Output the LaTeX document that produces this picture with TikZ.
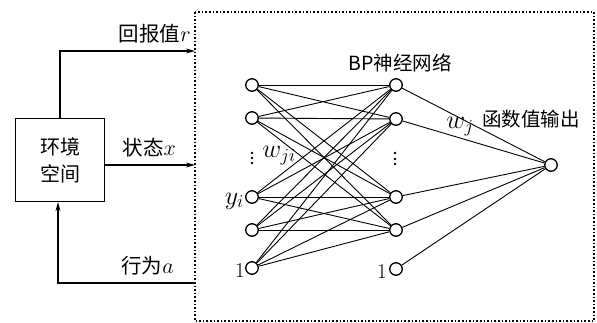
\RequirePackage{fix-cm}
\documentclass[tikz,border=0pt]{standalone}
\usepackage{fontspec}
\newfontfamily\cjk{Noto Sans CJK SC}
\usetikzlibrary{arrows.meta,backgrounds}
\newcommand{\mv}[2]{{\fontsize{#1}{#1}\selectfont$#2$}}
\begin{document}
\begin{tikzpicture}[x=1pt,y=-1pt,
  neuron/.style={draw,circle,line width=1.3pt,minimum size=12.5pt,inner sep=0pt,fill=white},
  conn/.style={line width=0.9pt},
  flow/.style={line width=1.1pt,-{Stealth[length=9pt,width=5pt]}},
  lbl/.style={font=\fontsize{20.5}{20.5}\selectfont\cjk, inner sep=1pt},
  rlbl/.style={font=\fontsize{19.5}{19.5}\selectfont\cjk, inner sep=1pt},
  mlbl/.style={font=\fontsize{26}{26}\selectfont, inner sep=1pt},
  dot/.style={fill,circle,inner sep=0pt,minimum size=2.6pt}]
\useasboundingbox (0,0) rectangle (597,323);
% dotted frame
\draw[line width=1.6pt, dotted] (195,12) rectangle (594,321);
% environment box
\node[draw, line width=1.3pt, minimum width=89pt, minimum height=83pt, align=center, font=\fontsize{20}{27}\selectfont\cjk] (env) at (60,160) {环境\\空间};
\coordinate (rIn) at (195,51);
\coordinate (xIn) at (195,165);
\coordinate (aOut) at (195,283);
\coordinate (rTurn) at (60,51);
\coordinate (aTurn) at (58,283);
\draw[flow] (env.north) -- (rTurn) -- (rIn);
\draw[flow] (env.east |- xIn) -- (xIn);
\draw[flow] (aOut) -- (aTurn) -- (env.south -| aTurn);
\node[lbl, anchor=south east] (rl) at (192,44) {回报值\mv{22}{r}};
\node[lbl, anchor=south east] (xl) at (177,158) {状态\mv{22}{x}};
\node[lbl, anchor=south east] (al) at (175,276) {行为\mv{22}{a}};
% layers
\foreach \n/\y in {1/85,2/118,3/197,4/230,5/268} \node[neuron] (i\n) at (252,\y) {};
\foreach \n/\y in {1/85,2/119,3/197,4/230,5/269} \node[neuron] (h\n) at (396,\y) {};
\node[neuron] (o) at (551,165) {};
% connections
\begin{scope}[on background layer]
\foreach \a in {1,...,5} \foreach \b in {1,...,4} \draw[conn] (i\a) -- (h\b);
\foreach \b in {1,...,5} \draw[conn] (h\b) -- (o);
\end{scope}
% vertical dots
\foreach \y [count=\k] in {153,158,163} \node[dot] (da\k) at (252,\y) {};
\foreach \y [count=\k] in {153,159,164} \node[dot] (db\k) at (395,\y) {};
% labels
\node[mlbl, anchor=east] (yi) at (245,201) {$y_{i}$};
\node[font=\fontsize{21}{21}\selectfont, anchor=east, inner sep=1pt] (one1) at (246,271) {1};
\node[font=\fontsize{21}{21}\selectfont, anchor=east, inner sep=1pt] (one2) at (388,272) {1};
\node[mlbl] (wji) at (279,156) {$w_{ji}$};
\node[mlbl] (wj) at (460,127) {$w_{j}$};
\node[rlbl] (bp) at (400,63) {BP神经网络};
\node[rlbl] (fo) at (531,119) {函数值输出};
\end{tikzpicture}
\end{document}
